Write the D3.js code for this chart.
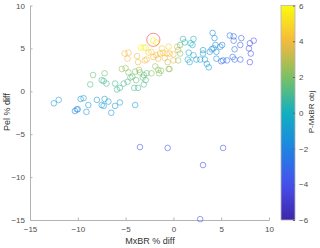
<!DOCTYPE html>
<html>
<head>
<meta charset="utf-8">
<script src="https://cdn.jsdelivr.net/npm/d3@7"></script>
<style>
  body { margin: 0; background: #fff; }
  svg { font-family: 'Liberation Sans', Arial, sans-serif; }
</style>
</head>
<body>
<svg id="chart" width="320" height="248"></svg>
<script>
// data ------------------------------
const mxbrDiff = [
  -12.5, -12.0, -10.3, -10.1, -10.0, -9.7, -9.4, -9.1, -8.9, -8.0, -7.5, -7.3, -7.2, -6.8, -6.5, -6.1, -5.6, -4.0,
  -8.7, -8.4, -7.5, -7.3, -7.2, -7.0, -6.1, -5.9, -5.6, -5.2, -4.8, -5.4, -5.0, -4.7, -4.5, -4.3, -4.1, -3.7, -3.9, -4.0,
  -3.6, -3.2, -3.1, -2.9, -3.1, -2.8, -1.9, -1.6, -3.5, -2.3, -1.5, -1.3, -0.5, -0.4,
  -5.1, -4.7, -4.8, -3.8, -3.7, -3.0, -2.8, -3.4, -3.1, -2.9, -2.6, -2.3, -2.1, -1.8, -2.1, -1.8, -1.4, -1.2, -0.9, -0.7,
  -0.5, -0.4, 0.0, -0.6, 0.0, 0.4, 0.5, 0.5, 0.7, 0.7, -1.1, -1.6,
  1.0, 1.2, 1.8, 2.1, 2.0, 1.6, 2.1, 1.5, 1.7, 2.4, 2.8, 3.1, 3.1, 3.3, 3.5, 3.7, 3.8, 4.0, 4.2, 4.4, 4.1, 4.3, 4.5,
  4.9, 5.1, 4.5, 5.0, 5.2, 5.6, 5.9, 6.3, 6.3, 7.1, 7.0, 6.4, 6.2, 6.4, 7.0, 8.0, 8.4, 7.9, 8.1, 8.0,
  -3.5, -0.6, 5.2, 3.1, 2.8
]
const pelDiff = [
  -1.4, -1.0, -2.3, -2.1, -2.1, -0.9, -0.8, -2.4, -1.6, -1.0, -1.6, -1.7, -0.9, -1.2, -2.5, -1.7, -1.3, -1.6,
  0.8, 1.9, 1.3, 1.2, 2.1, 0.9, 0.9, 0.2, 0.4, 0.9, 1.1, 2.6, 2.7, 2.2, 1.6, 1.7, 0.4, 0.4, 1.3, 2.3,
  2.5, 1.6, 1.9, 1.3, 0.8, 2.1, 2.9, 2.5, 2.2, 2.1, 2.1, 2.4, 2.6, 2.6,
  4.4, 4.5, 3.8, 4.1, 3.4, 3.6, 3.7, 5.1, 5.1, 5.1, 4.5, 4.6, 5.9, 5.7, 4.0, 4.2, 4.4, 5.0, 3.9, 4.4,
  5.2, 4.4, 4.3, 3.4, 3.6, 5.2, 4.8, 3.6, 4.4, 5.4, 4.5, 3.8,
  6.1, 5.7, 5.6, 6.1, 5.4, 4.5, 4.2, 3.7, 3.4, 3.7, 3.7, 4.8, 4.4, 3.7, 3.2, 2.8, 4.6, 4.9, 5.0, 5.4, 6.8, 6.2, 4.6,
  5.2, 5.4, 3.8, 3.5, 3.6, 3.6, 6.5, 6.4, 5.9, 6.2, 5.4, 4.9, 4.0, 3.7, 3.7, 5.6, 5.9, 5.0, 4.4, 3.4,
  -6.5, -6.6, -6.6, -8.6, -14.9
]
const pObj = [
  -1, -1, -2.5, -2, -1.5, -1, -1, -1.5, -1, -1, -1, -1, -1, -1, -1.5, -1, -1, -0.8,
  1, 1.5, 1, 1, 1.5, 1, 1, 0.8, 0.8, 1, 1.3, 2.5, 2.5, 2, 1.5, 1.5, 1, 1, 1.5, 2,
  2.5, 1.5, 1.5, 1.2, 1.2, 1.5, 2.5, 2.5, 2, 2, 2, 2, 2.3, 2.5,
  4, 4, 4, 4, 4, 4, 4, 5.8, 5.8, 5.5, 4.5, 4.5, 6, 5.5, 4, 4, 4, 4.5, 4, 4,
  4.5, 4, 4, 3.5, 3.5, 3.5, 3, 2.5, 2, 1.5, 4.5, 3.8,
  0.5, 0.5, 0, 0, 0, -0.5, -0.5, -0.5, -0.5, -1, -1, -1, -1, -1, -1, -1.2, -1.5, -1.5, -1.5, -1.5, -1.5, -1.5, -1.5,
  -2, -2, -1.5, -3, -3, -3, -3, -3, -3, -3.5, -3.5, -3, -3, -3, -3.5, -4, -4, -4, -4, -4,
  -4, -4, -4, -4, -4
]
const highlight = [[-2.1, 6.0]]

const xTicks = [-15, -10, -5, 0, 5, 10]
const yTicks = [-15, -10, -5, 0, 5, 10]
const cbTicks = [-6, -4, -2, 0, 2, 4, 6]
const parulaStops = ['#3e26a8', '#4650ee', '#1e85e2', '#12b0c0', '#7cc163', '#f7b83d', '#f9fb0e']

// chart ------------------------------
function draw() {
  const svg = d3.select('#chart')
  const axisColor = '#b3b3b3'
  const textColor = '#4d4d4d'

  const x = d3.scaleLinear().domain([-15, 10]).range([30, 269])
  const y = d3.scaleLinear().domain([-15, 10]).range([220, 5.5])
  const cb = d3.scaleLinear().domain([-6, 6]).range([220, 5.5])
  const color = d3
    .scaleLinear()
    .domain(d3.range(parulaStops.length).map((i) => -6 + (12 * i) / (parulaStops.length - 1)))
    .range(parulaStops)
    .clamp(true)

  // axes (box off, ticks inward)
  const gx = svg
    .append('g')
    .attr('transform', 'translate(0,220)')
    .call(d3.axisBottom(x).tickValues(xTicks).tickSizeInner(-2.5).tickSizeOuter(0).tickPadding(6))
  const gy = svg
    .append('g')
    .attr('transform', 'translate(30,0)')
    .call(d3.axisLeft(y).tickValues(yTicks).tickSizeInner(-2.5).tickSizeOuter(0).tickPadding(5))

  ;[gx, gy].forEach((g) => {
    g.select('.domain').attr('stroke', axisColor)
    g.selectAll('.tick line').attr('stroke', axisColor)
    g.selectAll('.tick text').attr('fill', textColor).style('font-size', '8px')
  })

  // scatter points
  const pts = mxbrDiff.map((d, i) => ({ x: d, y: pelDiff[i], c: pObj[i] }))
  svg
    .append('g')
    .selectAll('circle')
    .data(pts)
    .join('circle')
    .attr('cx', (d) => x(d.x))
    .attr('cy', (d) => y(d.y))
    .attr('r', 2.8)
    .attr('fill', 'none')
    .attr('stroke', (d) => color(d.c))
    .attr('stroke-width', 0.8)
    .attr('stroke-opacity', 0.7)

  // highlighted point
  svg
    .append('g')
    .selectAll('circle')
    .data(highlight)
    .join('circle')
    .attr('cx', (d) => x(d[0]))
    .attr('cy', (d) => y(d[1]))
    .attr('r', 6.6)
    .attr('fill', 'none')
    .attr('stroke', '#f05050')
    .attr('stroke-width', 0.9)
    .attr('stroke-opacity', 0.7)

  // axis labels
  svg
    .append('text')
    .attr('x', 150)
    .attr('y', 244)
    .attr('text-anchor', 'middle')
    .attr('fill', '#333')
    .style('font-size', '9px')
    .text('MxBR % diff')

  svg
    .append('text')
    .attr('transform', 'translate(10,112) rotate(-90)')
    .attr('text-anchor', 'middle')
    .attr('fill', '#333')
    .style('font-size', '9px')
    .text('Pel % diff')

  // colorbar
  const grad = svg
    .append('defs')
    .append('linearGradient')
    .attr('id', 'parula')
    .attr('x1', 0)
    .attr('y1', 1)
    .attr('x2', 0)
    .attr('y2', 0)
  grad
    .selectAll('stop')
    .data(d3.range(0, 1.0001, 0.05))
    .join('stop')
    .attr('offset', (d) => d)
    .attr('stop-color', (d) => color(-6 + 12 * d))

  svg
    .append('rect')
    .attr('x', 281)
    .attr('y', cb(6))
    .attr('width', 14)
    .attr('height', cb(-6) - cb(6))
    .attr('fill', 'url(#parula)')
    .attr('stroke', axisColor)
    .attr('stroke-width', 0.8)

  const gc = svg
    .append('g')
    .attr('transform', 'translate(295,0)')
    .call(d3.axisRight(cb).tickValues(cbTicks).tickSizeInner(-2).tickSizeOuter(0).tickPadding(4))
  gc.select('.domain').remove()
  gc.selectAll('.tick line').attr('stroke', '#666')
  gc.selectAll('.tick text').attr('fill', textColor).style('font-size', '8px')

  svg
    .append('text')
    .attr('transform', 'translate(314,112) rotate(-90)')
    .attr('text-anchor', 'middle')
    .attr('fill', '#333')
    .style('font-size', '8px')
    .text('P-MxBR obj')
}

draw()
</script>
</body>
</html>
